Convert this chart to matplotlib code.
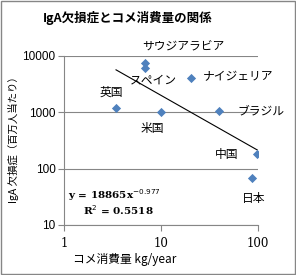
import matplotlib
matplotlib.use("Agg")
import matplotlib.pyplot as plt
from matplotlib.patches import Rectangle
import numpy as np

plt.rcParams['font.family'] = ['Noto Sans CJK JP', 'DejaVu Sans']

# data
countries = ["サウジアラビア", "スペイン", "ナイジェリア", "英国", "米国", "ブラジル", "中国", "日本"]
rice = [6.8, 6.8, 20.2, 3.44, 10.1, 39.6, 98, 86]
iga = [7400, 6050, 4000, 1170, 990, 1030, 182, 68]
label_offsets = [(39, 16), (9, -12), (12, 2), (-5, 16), (-9, -16), (18, 0), (-31, -1), (2, -20)]
label_ha = ["center", "center", "left", "center", "center", "left", "center", "center"]

coef = 18865
expo = -0.977
r2 = 0.5518

fig = plt.figure(figsize=(2.96, 2.75), dpi=100)
fig.patches.append(Rectangle((0.003, 0.003), 0.994, 0.994, transform=fig.transFigure,
                             fill=False, edgecolor="#868686", linewidth=1))
ax = fig.add_axes([0.216, 0.182, 0.656, 0.615])

ax.set_xscale("log")
ax.set_yscale("log")
ax.set_xlim(1, 100)
ax.set_ylim(10, 10000)

ax.scatter(rice, iga, marker="D", s=22, color="#4F81BD", zorder=3, linewidths=0)

# power trend line
xs = np.logspace(np.log10(min(rice)), np.log10(max(rice)), 50)
ax.plot(xs, coef * xs ** expo, color="black", linewidth=0.8, zorder=2)

for name, x, y, off, ha in zip(countries, rice, iga, label_offsets, label_ha):
    ax.annotate(name, (x, y), xytext=off, textcoords="offset pixels",
                ha=ha, va="center", fontsize=8.5)

ax.grid(axis="y", color="#868686", linewidth=0.8)
ax.grid(axis="x", visible=False)
for s in ["top", "right", "bottom"]:
    ax.spines[s].set_visible(False)
ax.spines["left"].set_color("#868686")
ax.axhline(10, color="#868686", linewidth=0.8, clip_on=False)

ax.set_xticks([1, 10, 100])
ax.set_xticklabels(["1", "10", "100"], family="DejaVu Serif", fontsize=8.5)
ax.set_yticks([10, 100, 1000, 10000])
ax.set_yticklabels(["10", "100", "1000", "10000"], family="Liberation Sans", fontsize=8.5)
ax.minorticks_off()
ax.tick_params(axis="x", length=4, color="#868686", pad=5)
ax.tick_params(axis="y", length=4, color="#868686", pad=2)

ax.text(0.02, 0.175, "y = %dx$^{%.3f}$" % (coef, expo), transform=ax.transAxes,
        family="DejaVu Serif", fontweight="bold", fontsize=7.5, va="center")
ax.text(0.1, 0.085, "R$^2$ = %.4f" % r2, transform=ax.transAxes,
        family="DejaVu Serif", fontweight="bold", fontsize=7.5, va="center")

fig.text(0.43, 0.935, "IgA欠損症とコメ消費量の関係", ha="center", va="center",
         fontsize=9, fontweight="bold", family=["Noto Sans CJK JP"])
fig.text(0.045, 0.5, "IgA 欠損症（百万人当たり）", rotation=90, ha="center", va="center",
         fontsize=7.5)
fig.text(0.42, 0.055, "コメ消費量 kg/year", ha="center", va="center", fontsize=8.5)

fig.savefig("out.png", dpi=100)
